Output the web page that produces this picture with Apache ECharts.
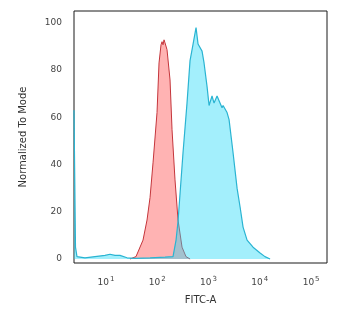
<!DOCTYPE html>
<html><head><meta charset="utf-8">
<script src="https://cdn.jsdelivr.net/npm/echarts@6/dist/echarts.min.js"></script>
<style>html,body{margin:0;padding:0;background:#fff}#c{width:350px;height:325px}</style>
</head><body><div id="c"></div>
<script>
// log10(FITC-A) positions and % of mode
const redX = [1.468,1.585,1.722,1.80,1.859,1.917,1.995,2.034,2.073,2.093,2.112,2.132,2.151,2.19,2.249,2.288,2.346,2.405,2.483,2.56,2.64];
const redY = [0,1,8,16.5,26,40.7,62,83,90.7,92,90.7,92.8,91.5,88.6,75.8,54.7,33.5,16.5,5,1,0];
const cyanX = [0.376,0.405,0.434,0.59,0.785,0.98,1.078,1.176,1.273,1.41,1.566,1.86,2.151,2.307,2.366,2.405,2.502,2.58,2.639,2.698,2.756,2.795,2.873,2.912,2.971,3.01,3.068,3.107,3.166,3.205,3.263,3.283,3.361,3.4,3.478,3.556,3.615,3.673,3.751,3.868,4.005,4.1,4.2];
const cyanY = [63,5,1,0.5,1,1.5,2,1.5,1.5,0.5,0.3,0.5,0.8,1,8,16,45,66,84,91,98,91,88,83,73,65,69,66,69,67,64,65,62,59,45,30,22,13.5,8,5,2.5,1,0];
const xTicks = [1,2,3,4,5];
const yTicks = [0,20,40,60,80,100];

const pairs = (xs, ys) => xs.map((x, i) => [x, ys[i]]);
const chart = echarts.init(document.getElementById('c'));
chart.setOption({
  animation: false,
  grid: {left: 74, right: 23, top: 11, bottom: 62, show: true, borderColor: '#1a1a1a', borderWidth: 1, backgroundColor: 'transparent'},
  xAxis: {
    type: 'value', min: 0.376, max: 5.31,
    name: 'FITC-A', nameLocation: 'middle', nameGap: 32,
    nameTextStyle: {fontFamily: 'DejaVu Sans', fontSize: 10, color: '#333'},
    axisLine: {show: false}, axisTick: {show: false}, splitLine: {show: false},
    axisLabel: {
      customValues: xTicks, margin: 13,
      fontFamily: 'DejaVu Sans', fontSize: 9, color: '#444',
      formatter: v => '{b|10}{s|' + v + '}',
      rich: {b: {fontSize: 9, color: '#444', fontFamily: 'DejaVu Sans'},
             s: {fontSize: 7, color: '#444', fontFamily: 'DejaVu Sans', padding: [0, 0, 7, 1]}}
    }
  },
  yAxis: {
    type: 'value', min: -1.7, max: 105,
    name: 'Normalized To Mode', nameLocation: 'middle', nameGap: 46,
    nameTextStyle: {fontFamily: 'DejaVu Sans', fontSize: 10, color: '#333'},
    axisLine: {show: false}, axisTick: {show: false}, splitLine: {show: false},
    axisLabel: {customValues: yTicks, margin: 12, fontFamily: 'DejaVu Sans', fontSize: 9, color: '#444'}
  },
  series: [
    {type: 'line', data: pairs(redX, redY), showSymbol: false, smooth: false,
     lineStyle: {color: '#c4353b', width: 1},
     areaStyle: {color: 'rgba(255,90,90,0.66)'}, z: 2},
    {type: 'line', data: pairs(cyanX, cyanY), showSymbol: false, smooth: false,
     lineStyle: {color: '#2ab4d2', width: 1.2},
     areaStyle: {color: 'rgba(30,215,248,0.58)'}, z: 3}
  ]
});
</script></body></html>
